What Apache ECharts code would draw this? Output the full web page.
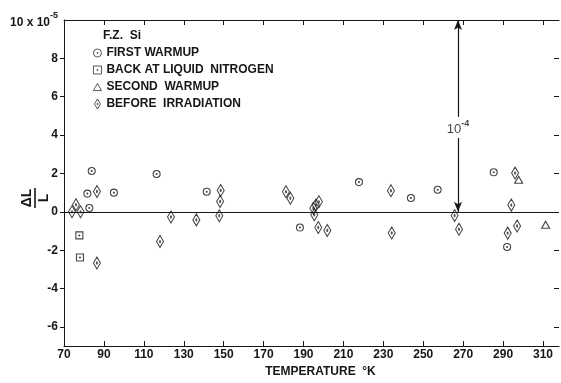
<!DOCTYPE html>
<html><head><meta charset="utf-8">
<script src="https://cdn.jsdelivr.net/npm/echarts@6/dist/echarts.min.js"></script>
<style>html,body{margin:0;padding:0;background:#fff}#c{width:561px;height:383px}</style>
</head><body><div id="c"></div>
<script>
// ---- data ----
const xTicks = [70, 90, 110, 130, 150, 170, 190, 210, 230, 250, 270, 290, 310];
const yTicks = [-6, -4, -2, 0, 2, 4, 6, 8, 10];
const xRange = [70, 318];
const yRange = [-7, 10];
const seriesNames = ['FIRST WARMUP', 'BACK AT LIQUID  NITROGEN', 'SECOND  WARMUP', 'BEFORE  IRRADIATION'];
const sampleLabel = 'F.Z.  Si';
const firstWarmup = [
  [83.9, 2.13], [116.4, 1.97], [81.7, 0.95], [95.0, 1.0], [82.7, 0.2],
  [141.5, 1.05], [217.8, 1.55], [188.2, -0.82], [243.8, 0.72], [257.2, 1.15],
  [285.3, 2.06], [292.0, -1.83]
];
const backAtLN2 = [[77.7, -1.23], [78.0, -2.38]];
const secondWarmup = [[297.8, 1.67], [311.3, -0.67]];
const beforeIrradiation = [
  [86.5, 1.06], [76.0, 0.37], [74.0, 0.0], [78.3, 0.0], [123.6, -0.27],
  [136.3, -0.42], [118.1, -1.55], [86.5, -2.67], [148.5, 1.11], [148.2, 0.54],
  [147.8, -0.2], [181.2, 1.05], [183.4, 0.71], [194.9, 0.19], [196.2, 0.35],
  [197.7, 0.52], [195.4, -0.15], [197.4, -0.82], [201.9, -0.97], [233.8, 1.10],
  [265.7, -0.19], [267.9, -0.91], [234.2, -1.10], [296.0, 2.02], [294.1, 0.35],
  [297.0, -0.74], [292.3, -1.11]
];
const arrowT = 267.4;
const arrowSpan = [0, 10];
const arrowGap = [3.85, 4.95];
const arrowLabelPos = [[267.4, 4.4]];

// ---- styling ----
const FONT = '"Liberation Sans", Arial, sans-serif';
const INK = '#161616';
const symCircle = 'path://M0,10A10,10,0,1,1,20,10A10,10,0,1,1,0,10ZM8.6,10A1.4,1.4,0,1,1,11.4,10A1.4,1.4,0,1,1,8.6,10Z';
const symSquare = 'path://M0,0L20,0L20,20L0,20ZM8.6,10A1.4,1.4,0,1,1,11.4,10A1.4,1.4,0,1,1,8.6,10Z';
const symTri = 'path://M10,0L20,18L0,18Z';
const symDiamond = 'path://M6,0L12,10L6,20L0,10ZM5,10A1,1.6,0,1,1,7,10A1,1.6,0,1,1,5,10Z';
const pointStyle = { color: 'rgba(0,0,0,0)', borderColor: INK, borderWidth: 1.1 };

function scatter(name, data, symbol, size) {
  return {
    name, type: 'scatter', data, symbol, symbolSize: size, symbolKeepAspect: false,
    itemStyle: pointStyle, emphasis: { disabled: true }, z: 3
  };
}

const chart = echarts.init(document.getElementById('c'), null, { renderer: 'canvas' });
const axisLineStyle = { color: INK, width: 1 };
const labelStyle = { color: INK, fontFamily: FONT, fontWeight: 'bold', fontSize: 12 };
const supRich = (base, w) => ({
  n: { fontSize: base, fontFamily: FONT, fontWeight: w, color: INK, lineHeight: 17, verticalAlign: 'bottom' },
  s: { fontSize: 9, fontFamily: FONT, fontWeight: 'bold', color: INK, lineHeight: 9, verticalAlign: 'top' }
});

const series = [
  scatter(seriesNames[0], firstWarmup, symCircle, 7),
  scatter(seriesNames[1], backAtLN2, symSquare, 7),
  scatter(seriesNames[2], secondWarmup, symTri, [8, 7]),
  scatter(seriesNames[3], beforeIrradiation, symDiamond, [7, 12]),
  {
    name: 'annot', type: 'scatter', data: arrowLabelPos, symbolSize: 1,
    itemStyle: { color: 'rgba(0,0,0,0)' }, silent: true,
    label: {
      show: true, position: 'inside', formatter: '{n|10}{s|-4}',
      rich: supRich(13, 'normal')
    },
    markLine: {
      silent: true, symbolSize: [6, 10],
      lineStyle: { color: INK, width: 1.2, type: 'solid' },
      label: { show: false },
      data: [
        [{ coord: [xRange[0], 0], symbol: 'none' }, { coord: [xRange[1], 0], symbol: 'none' }],
        [{ coord: [arrowT, arrowGap[1]], symbol: 'none' }, { coord: [arrowT, arrowSpan[1]], symbol: 'arrow' }],
        [{ coord: [arrowT, arrowGap[0]], symbol: 'none' }, { coord: [arrowT, arrowSpan[0]], symbol: 'arrow' }]
      ]
    }
  }
];

chart.setOption({
  animation: false,
  backgroundColor: '#fff',
  grid: { left: 64, right: 2, top: 20, bottom: 27 },
  legend: {
    data: seriesNames, orient: 'vertical', left: 88, top: 42,
    itemWidth: 8, itemHeight: 10, itemGap: 5, selectedMode: false,
    itemStyle: { borderWidth: 0.9 },
    textStyle: { color: INK, fontFamily: FONT, fontWeight: 'bold', fontSize: 12 }
  },
  xAxis: [
    {
      type: 'value', min: xRange[0], max: xRange[1], position: 'bottom',
      axisLine: { show: true, onZero: false, lineStyle: axisLineStyle },
      axisTick: { show: true, inside: true, length: 5, customValues: xTicks, lineStyle: axisLineStyle },
      axisLabel: { customValues: xTicks, margin: 3, ...labelStyle },
      splitLine: { show: false },
      name: 'TEMPERATURE  °K', nameLocation: 'middle', nameGap: 16,
      nameTextStyle: { ...labelStyle, padding: [0, 0, 0, 18] }
    },
    {
      type: 'value', min: xRange[0], max: xRange[1], position: 'top',
      axisLine: { show: true, onZero: false, lineStyle: axisLineStyle },
      axisTick: { show: true, inside: true, length: 5, customValues: xTicks.slice(1), lineStyle: axisLineStyle },
      axisLabel: { show: false }, splitLine: { show: false }
    }
  ],
  yAxis: [
    {
      type: 'value', min: yRange[0], max: yRange[1], position: 'left',
      axisLine: { show: true, onZero: false, lineStyle: axisLineStyle },
      axisTick: { show: true, inside: false, length: 4, customValues: yTicks.slice(0, -1), lineStyle: axisLineStyle },
      axisLabel: {
        customValues: yTicks, margin: 6, ...labelStyle,
        formatter: v => v === 10 ? '{n|10 x 10}{s|-5}' : String(v),
        rich: supRich(12, 'bold')
      },
      splitLine: { show: false }
    },
    {
      type: 'value', min: yRange[0], max: yRange[1], position: 'right',
      axisLine: { show: false },
      axisTick: { show: true, inside: true, length: 5, customValues: yTicks.slice(0, -1), lineStyle: axisLineStyle },
      axisLabel: { show: false }, splitLine: { show: false }
    }
  ],
  graphic: [
    {
      type: 'text', left: 103, top: 30,
      style: { text: sampleLabel, font: 'bold 12px ' + FONT, fill: INK }
    },
    {
      type: 'group', x: 35, y: 198, rotation: Math.PI / 2,
      children: [
        { type: 'text', style: { text: 'ΔL', x: 0, y: -1, font: 'bold 14px ' + FONT, fill: INK, align: 'center', verticalAlign: 'bottom', textAlign: 'center', textVerticalAlign: 'bottom' } },
        { type: 'line', shape: { x1: -10, y1: 0, x2: 10, y2: 0 }, style: { stroke: INK, lineWidth: 1.6 } },
        { type: 'text', style: { text: 'L', x: 0, y: 2, font: 'bold 14px ' + FONT, fill: INK, align: 'center', verticalAlign: 'top', textAlign: 'center', textVerticalAlign: 'top' } }
      ]
    }
  ],
  series
});
</script></body></html>
